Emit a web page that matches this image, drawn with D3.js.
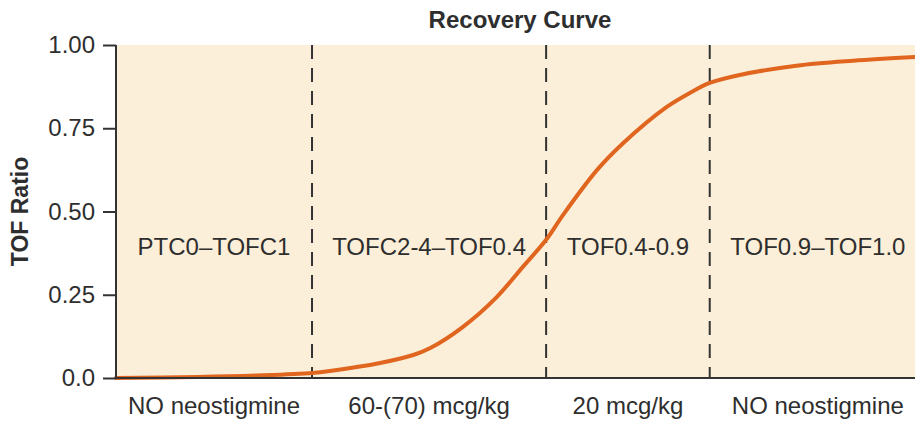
<!DOCTYPE html>
<html>
<head>
<meta charset="utf-8">
<script src="https://cdn.jsdelivr.net/npm/d3@7"></script>
<style>
  html, body { margin: 0; padding: 0; background: #fff; }
  svg { display: block; }
  text { font-family: "Liberation Sans", Arial, Helvetica, sans-serif; fill: #2e2e2e; }
</style>
</head>
<body>
<svg id="chart" width="915" height="425"></svg>
<script>
// ---- Data ----
const title = "Recovery Curve";
const yLabel = "TOF Ratio";
const yTicks = [0, 0.25, 0.5, 0.75, 1.0];
const yTickLabels = ["0.0", "0.25", "0.50", "0.75", "1.00"];
// phase boundaries along the (arbitrary) time axis
const boundaries = [0, 24.2, 53.1, 73.3, 100];
const phaseLabels = ["PTC0\u2013TOFC1", "TOFC2-4\u2013TOF0.4", "TOF0.4-0.9", "TOF0.9\u2013TOF1.0"];
const doseLabels = ["NO neostigmine", "60-(70) mcg/kg", "20 mcg/kg", "NO neostigmine"];
// recovery curve (time, TOF ratio)
const curveX = [0, 10, 18, 24.2, 26.4, 32.6, 36.7, 38.8, 42.8, 47, 50.2, 53.1, 55.2, 59.4, 62.6, 68, 71, 73.3, 77, 84, 91, 100];
const curveY = [0, 0.003, 0.008, 0.015, 0.021, 0.045, 0.069, 0.09, 0.153, 0.243, 0.333, 0.415, 0.49, 0.625, 0.705, 0.814, 0.858, 0.886, 0.91, 0.938, 0.953, 0.966];

// ---- Layout ----
const svg = d3.select("#chart");
const margin = { left: 116, top: 45, bottom: 378, right: 926 };
const x = d3.scaleLinear().domain([0, 100]).range([margin.left, margin.right]);
const y = d3.scaleLinear().domain([0, 1]).range([margin.bottom, margin.top]);

// background
svg.append("rect")
  .attr("x", x(0)).attr("y", y(1))
  .attr("width", x(100) - x(0)).attr("height", y(0) - y(1))
  .attr("fill", "#fcefd9");

// dashed boundaries
svg.selectAll("line.bound").data(boundaries.slice(1, 4)).join("line")
  .attr("class", "bound")
  .attr("x1", d => x(d)).attr("x2", d => x(d))
  .attr("y1", y(1)).attr("y2", y(0))
  .attr("stroke", "#333").attr("stroke-width", 2)
  .attr("stroke-dasharray", "14,9");

// phase labels
const mids = d3.range(4).map(i => (boundaries[i] + boundaries[i + 1]) / 2);
svg.selectAll("text.phase").data(phaseLabels).join("text")
  .attr("class", "phase")
  .attr("x", (d, i) => x(mids[i])).attr("y", 255)
  .attr("text-anchor", "middle")
  .style("font-size", "24px")
  .text(d => d);

// curve
const pts = curveX.map((d, i) => [d, curveY[i]]);
svg.append("path")
  .datum(pts)
  .attr("fill", "none")
  .attr("stroke", "#e0651f")
  .attr("stroke-width", 4)
  .attr("stroke-linecap", "round")
  .attr("d", d3.line().x(d => x(d[0])).y(d => y(d[1])).curve(d3.curveCatmullRom.alpha(0.5)));

// y axis
const yAxis = d3.axisLeft(y).tickValues(yTicks)
  .tickFormat((d, i) => yTickLabels[i]).tickSize(13).tickPadding(8);
const gy = svg.append("g").attr("transform", `translate(${x(0)},0)`).call(yAxis);
gy.select(".domain").attr("stroke", "#333").attr("stroke-width", 2).attr("d", `M0,${y(1)}V${y(0)}`);
gy.selectAll(".tick line").attr("stroke", "#333").attr("stroke-width", 2);
gy.selectAll(".tick text").style("font-size", "24px").attr("fill", "#2e2e2e")
  .style("font-family", '"Liberation Sans", Arial, sans-serif');

// bottom axis line
svg.append("line")
  .attr("x1", x(0)).attr("x2", 915)
  .attr("y1", y(0)).attr("y2", y(0))
  .attr("stroke", "#333").attr("stroke-width", 2);

// dose labels
svg.selectAll("text.dose").data(doseLabels).join("text")
  .attr("class", "dose")
  .attr("x", (d, i) => x(mids[i])).attr("y", 414)
  .attr("text-anchor", "middle")
  .style("font-size", "24px")
  .text(d => d);

// title
svg.append("text")
  .attr("x", 520).attr("y", 28)
  .attr("text-anchor", "middle")
  .style("font-size", "24px").style("font-weight", "bold")
  .text(title);

// y label
svg.append("text")
  .attr("transform", `translate(28,${(y(0) + y(1)) / 2}) rotate(-90)`)
  .attr("text-anchor", "middle")
  .style("font-size", "23px").style("font-weight", "bold")
  .text(yLabel);
</script>
</body>
</html>
